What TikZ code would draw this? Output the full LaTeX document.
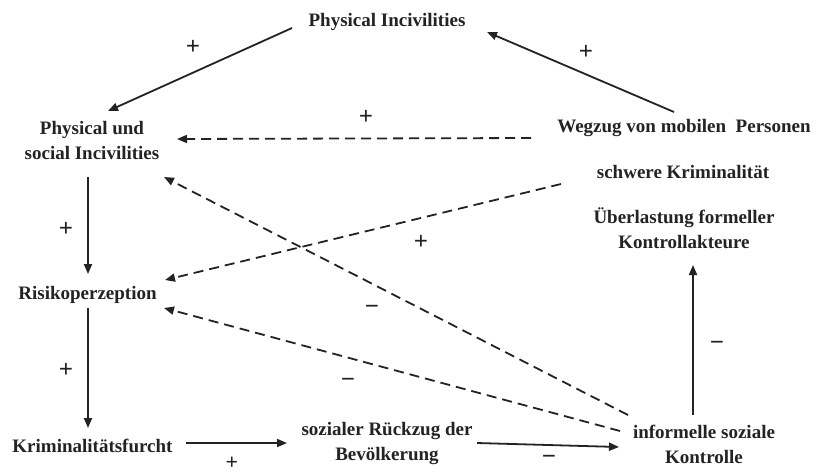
\documentclass[tikz,border=0pt]{standalone}
\usepackage{fontspec}
\setmainfont{Liberation Serif}
\usetikzlibrary{arrows.meta,calc}
\definecolor{ink}{RGB}{35,35,35}
\newcommand{\twolines}[2]{\begin{tabular}[t]{@{}c@{}}#1\\#2\end{tabular}}
\begin{document}
\begin{tikzpicture}[x=1pt,y=-1pt,
  lbl/.style={font=\fontsize{19}{25}\selectfont\bfseries, inner sep=0pt, anchor=base, text=ink},
  sgn/.style={font=\fontsize{25}{25}\selectfont\bfseries, inner sep=0pt, text=ink},
  link/.style={line width=1.8pt, draw=ink, -{Triangle[length=10pt,width=8pt]}},
  dlink/.style={link, dash pattern=on 10pt off 6pt}]
\fill[white] (0,0) rectangle (816,475);
\useasboundingbox (0,0) rectangle (816,475);

% nodes (placed by baseline)
\node[lbl] (pi)   at (387,26)  {Physical Incivilities};
\node[lbl] (psi)  at (92,134)  {\twolines{Physical und}{social Incivilities}};
\node[lbl] (weg)  at (684,132) {Wegzug von mobilen\ \ Personen};
\node[lbl] (swk)  at (683,178) {schwere Kriminalität};
\node[lbl] (ueb)  at (684,223) {\twolines{Überlastung formeller}{Kontrollakteure}};
\node[lbl] (risk) at (87.5,299) {Risikoperzeption};
\node[lbl] (kf)   at (92.5,452) {Kriminalitätsfurcht};
\node[lbl] (soz)  at (387,435) {\twolines{sozialer Rückzug der}{Bevölkerung}};
\node[lbl] (isk)  at (704,438) {\twolines{informelle soziale}{Kontrolle}};

% solid connectors
\draw[link] ($(pi.base)+(-95,2)$) -- ($(psi.base)+(16,-23)$);
\draw[link] ($(weg.base)+(-10,-20)$) -- ($(pi.base)+(100,6)$);
\draw[link] ($(psi.base)+(-4,43)$) -- ($(risk.base)+(0.5,-25)$);
\draw[link] ($(risk.base)+(0.5,9)$) -- ($(kf.base)+(-4.5,-24)$);
\draw[link] ($(kf.base)+(93.5,-9)$) -- ($(soz.base)+(-100,8)$);
\draw[link] ($(soz.base)+(90,8)$) -- ($(isk.base)+(-85,9)$);
\draw[link] ($(isk.base)+(-11,-23)$) -- ($(ueb.base)+(9,42)$);

% dashed connectors
\draw[dlink] ($(weg.base)+(-153,6)$) -- ($(psi.base)+(85,5)$);
\draw[dlink] ($(swk.base)+(-122,6)$) -- ($(risk.base)+(77.5,-19)$);
\draw[dlink] ($(isk.base)+(-76,-23)$) -- ($(psi.base)+(72,43)$);
\draw[dlink] ($(isk.base)+(-84,-7)$) -- ($(risk.base)+(76.5,9)$);

% signs
\node[sgn] (s1)  at (193,47)  {+};
\node[sgn] (s2)  at (586,52)  {+};
\node[sgn] (s3)  at (366,117) {+};
\node[sgn] (s4)  at (66,229)  {+};
\node[sgn] (s5)  at (421,242) {+};
\node[sgn] (s6)  at (372,310) {−};
\node[sgn] (s7)  at (66,370)  {+};
\node[sgn] (s8)  at (348,383) {−};
\node[sgn, font=\fontsize{22}{22}\selectfont\bfseries] (s9) at (232,463) {+};
\node[sgn] (s10) at (549,460) {−};
\node[sgn] (s11) at (717,346) {−};
\end{tikzpicture}
\end{document}
